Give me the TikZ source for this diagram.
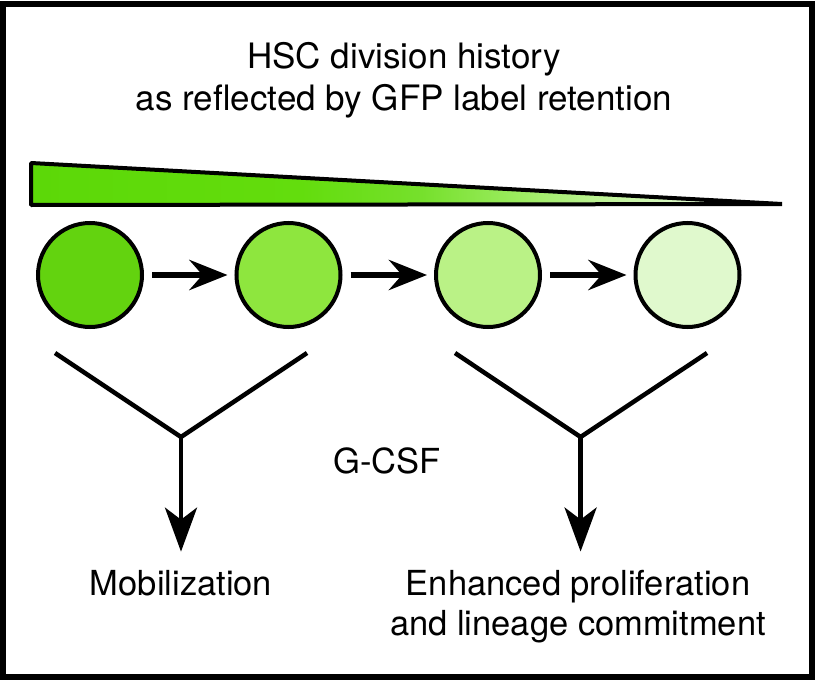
\documentclass[tikz,border=0pt]{standalone}
\usepackage{fontspec}
\setmainfont{TeX Gyre Heros}
\usetikzlibrary{arrows.meta}

\definecolor{gfpA}{HTML}{5CD808}
\definecolor{gfpB}{HTML}{63DD0D}
\definecolor{gfpC}{HTML}{76E02C}
\definecolor{gfpD}{HTML}{9CEC60}
\definecolor{gfpE}{HTML}{C4F4A0}
\definecolor{gfpF}{HTML}{E8FBDD}
\definecolor{cellA}{HTML}{63D30F}
\definecolor{cellB}{HTML}{8EE63E}
\definecolor{cellC}{HTML}{BAF286}
\definecolor{cellD}{HTML}{E0F9CD}

\pgfdeclarehorizontalshading{gfpfade}{100bp}{color(0bp)=(gfpA); color(25bp)=(gfpA); color(43bp)=(gfpB); color(51bp)=(gfpC); color(57.5bp)=(gfpD); color(64bp)=(gfpE); color(71bp)=(gfpF); color(75bp)=(white); color(100bp)=(white)}

\begin{document}
\begin{tikzpicture}[x=1pt, y=-1pt,
    cell/.style={circle, draw=black, line width=4pt, minimum size=104pt, inner sep=0pt},
    flow/.style={-{Stealth[length=38pt, width=30pt, inset=13pt]}, line width=6.5pt, shorten <=8pt, shorten >=7pt},
    fork/.style={line width=4.5pt, line join=miter},
    down/.style={-{Stealth[length=44pt, width=32pt, inset=12pt]}, line width=4.5pt},
    lbl/.style={font=\fontsize{34.5}{40}\selectfont, inner sep=3pt}]
    \useasboundingbox (0,0) rectangle (815,680);
    \draw[line width=6pt] (3,4) rectangle (811.5,677);

    % title and label gradient
    \node[font=\fontsize{35}{42}\selectfont, align=center, anchor=base] (title) at (404,110) {HSC division history\\as reflected by GFP label retention};
    \shade[shading=gfpfade] (31,163) -- (782,204) -- (31,205) -- cycle;
    \draw[line width=4pt, line join=bevel] (31,163) -- (782,204) -- (31,205) -- cycle;

    % cells
    \node[cell, fill=cellA] (h1) at (90,275) {};
    \node[cell, fill=cellB] (h2) at (288.5,275) {};
    \node[cell, fill=cellC] (h3) at (488,275) {};
    \node[cell, fill=cellD] (h4) at (687.5,275) {};

    \draw[flow] (h1) -- (h2);
    \draw[flow] (h2) -- (h3);
    \draw[flow] (h3) -- (h4);

    % outcomes
    \node[lbl, anchor=base] (gcsf) at (387,473) {G-CSF};
    \node[lbl, anchor=base] (mob) at (181,595) {Mobilization};
    \node[lbl, anchor=base, align=center] (prolif) at (578,635) {Enhanced proliferation\\and lineage commitment};

    \coordinate (jL) at (181,437);
    \coordinate (jR) at (580.6,437);
    \draw[fork] (55,353) -- (jL) -- (307,353);
    \draw[fork] (455,353) -- (jR) -- (707,353);
    \draw[down, shorten >=15pt] (jL) -- (jL |- mob.north);
    \draw[down, shorten >=15pt] (jR) -- (jR |- prolif.north);
\end{tikzpicture}
\end{document}
